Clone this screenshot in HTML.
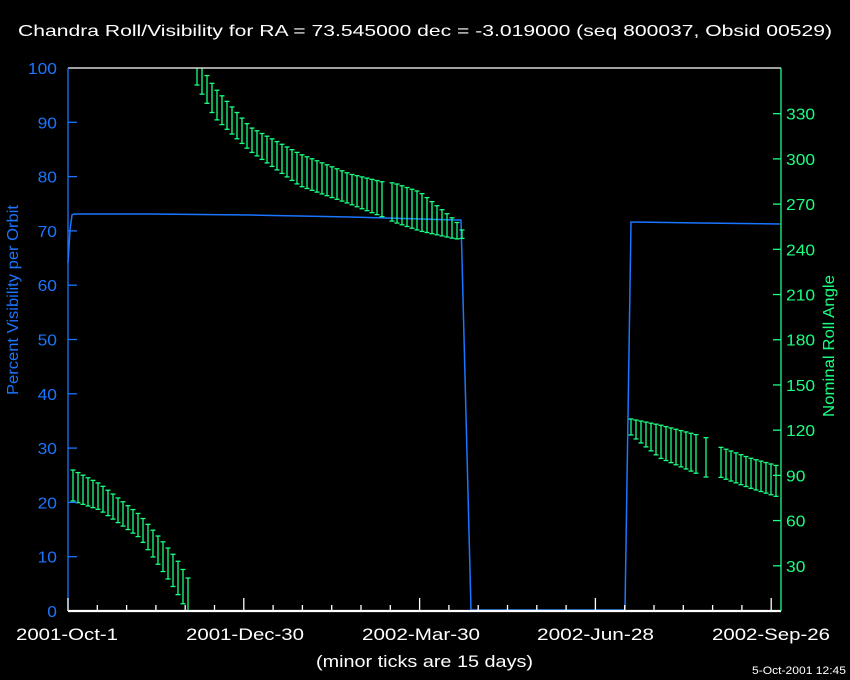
<!DOCTYPE html>
<html><head><meta charset="utf-8"><style>
html,body{margin:0;padding:0;background:#000;}
svg{display:block;font-family:"Liberation Sans",sans-serif;}
</style></head><body>
<svg id="s" width="850" height="680" viewBox="0 0 850 680" xmlns="http://www.w3.org/2000/svg">
<rect width="850" height="680" fill="#000"/>
<text x="18" y="36" fill="#fff" font-size="16" textLength="814" lengthAdjust="spacingAndGlyphs">Chandra Roll/Visibility for RA = 73.545000 dec = -3.019000 (seq 800037, Obsid 00529)</text>
<g id="g"></g>
<text x="0" y="0" fill="#1a75ff" font-size="16" textLength="190" lengthAdjust="spacingAndGlyphs" transform="translate(18 395) rotate(-90)">Percent Visibility per Orbit</text>
<text x="0" y="0" fill="#1aff80" font-size="16" textLength="142" lengthAdjust="spacingAndGlyphs" transform="translate(834 417) rotate(-90)">Nominal Roll Angle</text>
<g fill="#fff" font-size="17">
<text x="16" y="640" textLength="102" lengthAdjust="spacingAndGlyphs">2001-Oct-1</text>
<text x="186" y="640" textLength="118" lengthAdjust="spacingAndGlyphs">2001-Dec-30</text>
<text x="362" y="640" textLength="118" lengthAdjust="spacingAndGlyphs">2002-Mar-30</text>
<text x="537" y="640" textLength="117" lengthAdjust="spacingAndGlyphs">2002-Jun-28</text>
<text x="712" y="640" textLength="118" lengthAdjust="spacingAndGlyphs">2002-Sep-26</text>
<text x="316" y="667" textLength="217" lengthAdjust="spacingAndGlyphs">(minor ticks are 15 days)</text>
</g>
<text x="752" y="674" fill="#fff" font-size="11" textLength="94" lengthAdjust="spacingAndGlyphs">5-Oct-2001 12:45</text>
</svg>
<script>
var g=document.getElementById('g'),h='';
var B='#1a75ff',G='#1aff80';
function L(x1,y1,x2,y2,c,w){h+='<line x1="'+x1+'" y1="'+y1+'" x2="'+x2+'" y2="'+y2+'" stroke="'+c+'" stroke-width="'+(w||1.3)+'"/>';}
function T(x,y,t,c,a){h+='<text x="'+x+'" y="'+y+'" fill="'+c+'" font-size="16" text-anchor="'+a+'" textLength="'+(t.toString().length*9.7)+'" lengthAdjust="spacingAndGlyphs">'+t+'</text>';}
h+='<polyline fill="none" stroke="'+B+'" stroke-width="1.5" points="68,263 70,230 72,215 74,214 150,214 250,215 350,217 456,220 461,220 471,610 625,610 631,222 700,223 780,224"/>';
function interp(p,x){for(var i=0;i<p.length-1;i++){if(x<=p[i+1][0]){var t=(x-p[i][0])/(p[i+1][0]-p[i][0]);return [p[i][1]+t*(p[i+1][1]-p[i][1]),p[i][2]+t*(p[i+1][2]-p[i][2])];}}var q=p[p.length-1];return [q[1],q[2]];}
function seg(p,x0,x1,gaps){for(var x=x0;x<=x1;x+=5){var skip=false;(gaps||[]).forEach(function(gp){if(x>gp[0]&&x<gp[1])skip=true;});if(skip)continue;var r=interp(p,x),t=Math.max(68,r[0]),b=Math.min(611,r[1]);L(x,t,x,b,G);if(r[0]>=68)L(x-2.5,t,x+2.5,t,G);L(x-2.5,b,x+2.5,b,G);}}
seg([[73,470,501],[100,484,510],[140,515,538],[164,543,573],[176,558,591],[187,576,611],[192,586,611]],73,192);
seg([[197,60,85],[215,88,118],[250,127,151],[300,154,186],[350,174,204],[383,182,217],[394,183,222],[420,192,231],[456,221,239],[466,236,238]],197,466,[[385,392]]);
seg([[631,419,435],[660,425,458],[705,437,477],[720,447,477],[750,458,488],[778,466,497]],631,778,[[696,704],[709,717]]);
L(68,68,781,68,'#fff');L(68,611,781,611,'#fff',2.2);L(68,68,68,611,B);L(781,68,781,611,G);
for(var v=0;v<=100;v+=10){var y=611-v*5.43;if(v>0&&v<100)L(68,y,77,y,B);T(57,y+6,v,B,'end');}
for(var v=30;v<=330;v+=30){var y=611-v*1.507;L(773,y,781,y,G);T(786,y+6,v,G,'start');}
for(var i=0;i<=24;i++){var x=68+i*29.3;if(x>781)break;var maj=i%6==0;L(x,611,x,maj?598:605,'#fff');}
g.innerHTML=h;
</script>
</body></html>
